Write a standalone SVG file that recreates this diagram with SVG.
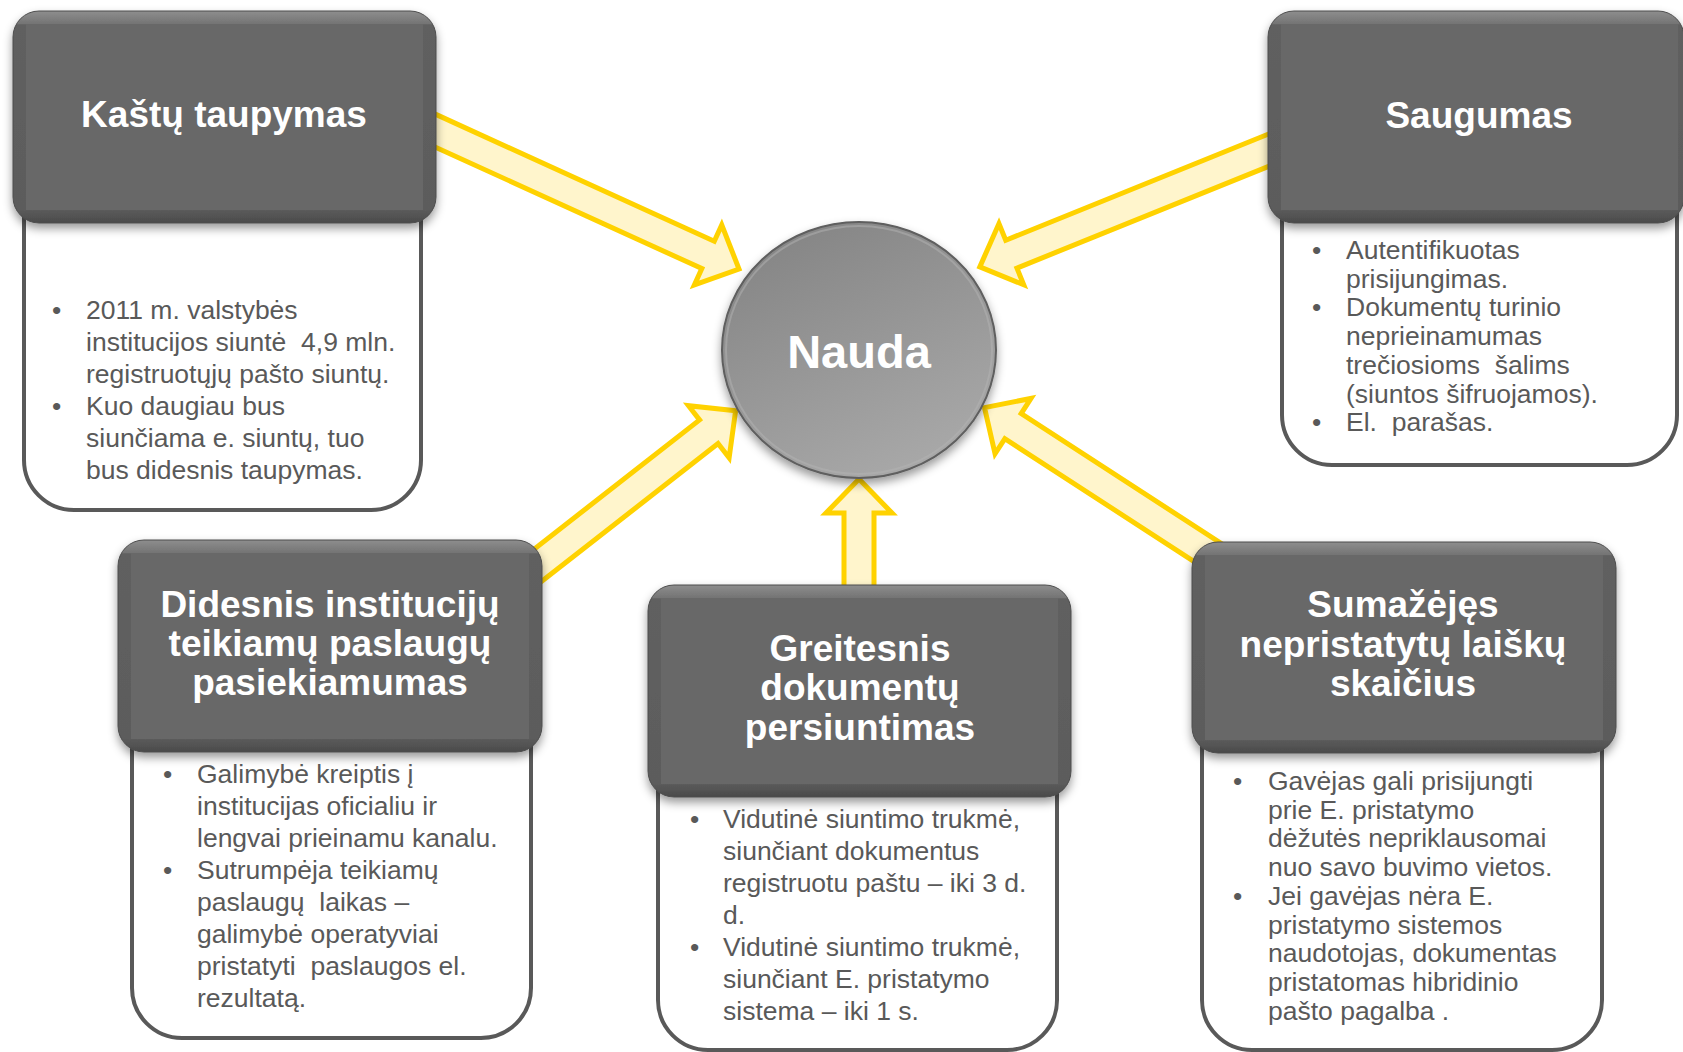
<svg xmlns="http://www.w3.org/2000/svg" width="1683" height="1052" viewBox="0 0 1683 1052">
<defs>
<style>
.arrow{fill:#FFF5CC;stroke:#FFD200;stroke-width:5;stroke-linejoin:miter;stroke-miterlimit:10}
.title{font-family:"Liberation Sans",Arial,sans-serif;font-weight:bold;font-size:37px;fill:#ffffff;text-anchor:middle}
.body{font-family:"Liberation Sans",Arial,sans-serif;font-size:26.5px;fill:#595959;white-space:pre}
.box{fill:#ffffff;stroke:#595959;stroke-width:4}
.hout{fill:url(#hg);stroke:#4d4d4d;stroke-width:1}
.hface{fill:#676767}
.hdr{filter:url(#sh)}
</style>
<linearGradient id="hg" x1="0" y1="0" x2="0" y2="1">
<stop offset="0" stop-color="#8e8e8e"/>
<stop offset="0.06" stop-color="#747474"/>
<stop offset="0.065" stop-color="#606060"/>
<stop offset="0.935" stop-color="#5c5c5c"/>
<stop offset="1" stop-color="#4a4a4a"/>
</linearGradient>
<linearGradient id="cg" x1="0.2" y1="0" x2="0.7" y2="1">
<stop offset="0" stop-color="#848484"/>
<stop offset="1" stop-color="#a9a9a9"/>
</linearGradient>
<filter id="sh" x="-10%" y="-10%" width="120%" height="130%">
<feDropShadow dx="0" dy="5" stdDeviation="5" flood-color="#000000" flood-opacity="0.4"/>
</filter>
</defs>
<rect x="0" y="0" width="1683" height="1052" fill="#ffffff"/>

<g id="connectors">
<polygon class="arrow" transform="translate(739,269) rotate(24.5)" points="-355,-15 -34,-15 -34,-33 0,0 -34,33 -34,15 -355,15"/>
<polygon class="arrow" transform="translate(979.8,266.9) rotate(158)" points="-330,-15 -34,-15 -34,-33 0,0 -34,33 -34,15 -330,15"/>
<polygon class="arrow" transform="translate(735.6,410.8) rotate(-38)" points="-280,-15 -34,-15 -34,-33 0,0 -34,33 -34,15 -280,15"/>
<polygon class="arrow" transform="translate(859,479) rotate(-90)" points="-115,-15 -34,-15 -34,-33 0,0 -34,33 -34,15 -115,15"/>
<polygon class="arrow" transform="translate(984.5,407.6) rotate(213)" points="-290,-15 -34,-15 -34,-33 0,0 -34,33 -34,15 -290,15"/>
</g>

<g id="nauda">
<ellipse cx="859" cy="350" rx="137" ry="128" fill="url(#cg)" stroke="#5e5e5e" stroke-width="2" filter="url(#sh)"/>
<ellipse cx="859" cy="350" rx="133" ry="124" fill="none" stroke="#b4b4b4" stroke-width="2" opacity="0.5"/>
<text class="title" x="859" y="368" style="font-size:47px">Nauda</text>
</g>

<g id="kastu">
<path class="box" d="M24,150 V460 A50,50 0 0 0 74,510 H371 A50,50 0 0 0 421,460 V150"/>
<g class="hdr"><rect class="hout" x="13" y="11" width="423" height="212" rx="26"/><rect class="hface" x="26" y="24" width="397" height="186"/></g>
<text class="title" x="224" y="127">Kaštų taupymas</text>
<text class="body"><tspan x="52" y="319">•</tspan><tspan x="86" y="319">2011 m. valstybės</tspan><tspan x="86" y="351">institucijos siuntė  4,9 mln.</tspan><tspan x="86" y="383">registruotųjų pašto siuntų.</tspan><tspan x="52" y="415">•</tspan><tspan x="86" y="415">Kuo daugiau bus</tspan><tspan x="86" y="447">siunčiama e. siuntų, tuo</tspan><tspan x="86" y="479">bus didesnis taupymas.</tspan></text>
</g>

<g id="saugumas">
<path class="box" d="M1282,150 V415 A50,50 0 0 0 1332,465 H1627 A50,50 0 0 0 1677,415 V150"/>
<g class="hdr"><rect class="hout" x="1268" y="11" width="416" height="212" rx="26"/><rect class="hface" x="1281" y="24" width="397" height="186"/></g>
<text class="title" x="1479" y="128">Saugumas</text>
<text class="body"><tspan x="1312" y="259">•</tspan><tspan x="1346" y="259">Autentifikuotas</tspan><tspan x="1346" y="287.7">prisijungimas.</tspan><tspan x="1312" y="316.4">•</tspan><tspan x="1346" y="316.4">Dokumentų turinio</tspan><tspan x="1346" y="345.1">neprieinamumas</tspan><tspan x="1346" y="373.8">trečiosioms  šalims</tspan><tspan x="1346" y="402.5">(siuntos šifruojamos).</tspan><tspan x="1312" y="431.2">•</tspan><tspan x="1346" y="431.2">El.  parašas.</tspan></text>
</g>

<g id="didesnis">
<path class="box" d="M132,680 V988 A50,50 0 0 0 182,1038 H481 A50,50 0 0 0 531,988 V680"/>
<g class="hdr"><rect class="hout" x="118" y="540" width="424" height="212" rx="26"/><rect class="hface" x="131" y="553" width="398" height="186"/></g>
<text class="title"><tspan x="330" y="617">Didesnis institucijų</tspan><tspan x="330" y="656">teikiamų paslaugų</tspan><tspan x="330" y="695">pasiekiamumas</tspan></text>
<text class="body"><tspan x="163" y="783">•</tspan><tspan x="197" y="783">Galimybė kreiptis į</tspan><tspan x="197" y="815">institucijas oficialiu ir</tspan><tspan x="197" y="847">lengvai prieinamu kanalu.</tspan><tspan x="163" y="879">•</tspan><tspan x="197" y="879">Sutrumpėja teikiamų</tspan><tspan x="197" y="911">paslaugų  laikas –</tspan><tspan x="197" y="943">galimybė operatyviai</tspan><tspan x="197" y="975">pristatyti  paslaugos el.</tspan><tspan x="197" y="1007">rezultatą.</tspan></text>
</g>

<g id="greitesnis">
<path class="box" d="M658,720 V1000 A50,50 0 0 0 708,1050 H1007 A50,50 0 0 0 1057,1000 V720"/>
<g class="hdr"><rect class="hout" x="648" y="585" width="423" height="212" rx="26"/><rect class="hface" x="661" y="598" width="397" height="186"/></g>
<text class="title"><tspan x="860" y="661">Greitesnis</tspan><tspan x="860" y="700">dokumentų</tspan><tspan x="860" y="740">persiuntimas</tspan></text>
<text class="body"><tspan x="690" y="828">•</tspan><tspan x="723" y="828">Vidutinė siuntimo trukmė,</tspan><tspan x="723" y="860">siunčiant dokumentus</tspan><tspan x="723" y="892">registruotu paštu – iki 3 d.</tspan><tspan x="723" y="924">d.</tspan><tspan x="690" y="956">•</tspan><tspan x="723" y="956">Vidutinė siuntimo trukmė,</tspan><tspan x="723" y="988">siunčiant E. pristatymo</tspan><tspan x="723" y="1020">sistema – iki 1 s.</tspan></text>
</g>

<g id="sumazejes">
<path class="box" d="M1202,680 V1000 A50,50 0 0 0 1252,1050 H1552 A50,50 0 0 0 1602,1000 V680"/>
<g class="hdr"><rect class="hout" x="1192" y="542" width="424" height="211" rx="26"/><rect class="hface" x="1205" y="555" width="398" height="185"/></g>
<text class="title"><tspan x="1403" y="617">Sumažėjęs</tspan><tspan x="1403" y="657">nepristatytų laiškų</tspan><tspan x="1403" y="696">skaičius</tspan></text>
<text class="body"><tspan x="1233" y="790">•</tspan><tspan x="1268" y="790">Gavėjas gali prisijungti</tspan><tspan x="1268" y="818.7">prie E. pristatymo</tspan><tspan x="1268" y="847.4">dėžutės nepriklausomai</tspan><tspan x="1268" y="876.1">nuo savo buvimo vietos.</tspan><tspan x="1233" y="904.8">•</tspan><tspan x="1268" y="904.8">Jei gavėjas nėra E.</tspan><tspan x="1268" y="933.5">pristatymo sistemos</tspan><tspan x="1268" y="962.2">naudotojas, dokumentas</tspan><tspan x="1268" y="990.9">pristatomas hibridinio</tspan><tspan x="1268" y="1019.6">pašto pagalba .</tspan></text>
</g>
</svg>
